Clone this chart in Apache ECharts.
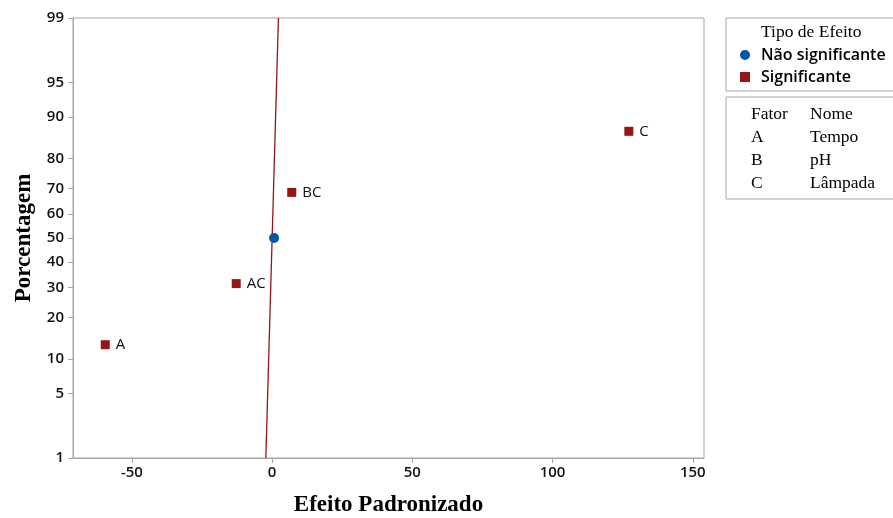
<!DOCTYPE html>
<html>
<head>
<meta charset="utf-8">
<script src="https://cdn.jsdelivr.net/npm/echarts@6/dist/echarts.min.js"></script>
<style>
  html, body { margin: 0; padding: 0; background: #fff; }
  #chart { width: 893px; height: 518px; }
</style>
</head>
<body>
<div id="chart"></div>
<script>
// dados
var efeitos = ['A', 'AC', 'BC', 'C'];
var efeitoValor = [-59.5, -12.8, 7.0, 127.2];
var efeitoPct = [12.96, 31.48, 68.52, 87.04];
var naoSigValor = [0.7];
var naoSigPct = [50];
var linhaValor = [-2.24, 2.25];
var linhaPct = [1, 99];
var yTicks = [1, 5, 10, 20, 30, 40, 50, 60, 70, 80, 90, 95, 99];
var xTicks = [-50, 0, 50, 100, 150];
var fatores = ['A', 'B', 'C'];
var nomes = ['Tempo', 'pH', 'Lâmpada'];

// inversa da normal padrão (Acklam)
function invNorm(p) {
    var a = [-3.969683028665376e+01, 2.209460984245205e+02, -2.759285104469687e+02, 1.383577518672690e+02, -3.066479806614716e+01, 2.506628277459239e+00];
    var b = [-5.447609879822406e+01, 1.615858368580409e+02, -1.556989798598866e+02, 6.680131188771972e+01, -1.328068155288572e+01];
    var c = [-7.784894002430293e-03, -3.223964580411365e-01, -2.400758277161838e+00, -2.549732539343734e+00, 4.374664141464968e+00, 2.938163982698783e+00];
    var d = [7.784695709041462e-03, 3.224671290700398e-01, 2.445134137142996e+00, 3.754408661907416e+00];
    var pl = 0.02425, q, r;
    if (p < pl) {
        q = Math.sqrt(-2 * Math.log(p));
        return (((((c[0]*q+c[1])*q+c[2])*q+c[3])*q+c[4])*q+c[5]) / ((((d[0]*q+d[1])*q+d[2])*q+d[3])*q+1);
    }
    if (p > 1 - pl) {
        q = Math.sqrt(-2 * Math.log(1 - p));
        return -(((((c[0]*q+c[1])*q+c[2])*q+c[3])*q+c[4])*q+c[5]) / ((((d[0]*q+d[1])*q+d[2])*q+d[3])*q+1);
    }
    q = p - 0.5; r = q * q;
    return (((((a[0]*r+a[1])*r+a[2])*r+a[3])*r+a[4])*r+a[5])*q / (((((b[0]*r+b[1])*r+b[2])*r+b[3])*r+b[4])*r+1);
}
function z(pct) { return invNorm(pct / 100); }

var yTickZ = yTicks.map(z);
function yLabel(v) {
    var best = 0;
    for (var i = 1; i < yTickZ.length; i++) {
        if (Math.abs(yTickZ[i] - v) < Math.abs(yTickZ[best] - v)) best = i;
    }
    return String(yTicks[best]);
}

var sansFont = '"Open Sans", "Noto Sans", sans-serif';
var serifFont = '"Liberation Serif", "DejaVu Serif", serif';
var vermelho = '#961616';
var azul = '#0057a8';
var cinza = '#a6a6a6';

var chart = echarts.init(document.getElementById('chart'));

var tabelaTextos = [
    { type: 'text', left: 751, top: 105, style: { text: 'Fator', font: '17.5px ' + serifFont, fill: '#000' } },
    { type: 'text', left: 810, top: 105, style: { text: 'Nome', font: '17.5px ' + serifFont, fill: '#000' } }
];
fatores.forEach(function (f, i) {
    tabelaTextos.push({ type: 'text', left: 751, top: 128 + i * 23, style: { text: f, font: '17.5px ' + serifFont, fill: '#000' } });
    tabelaTextos.push({ type: 'text', left: 810, top: 128 + i * 23, style: { text: nomes[i], font: '17.5px ' + serifFont, fill: '#000' } });
});

var option = {
    animation: false,
    grid: {
        left: 73, top: 18, right: 189, bottom: 60,
        outerBoundsMode: 'none',
        containLabel: false,
        show: true, borderColor: cinza, borderWidth: 1
    },
    xAxis: {
        type: 'value',
        min: -71, max: 154,
        name: 'Efeito Padronizado',
        nameLocation: 'middle',
        nameGap: 36,
        nameTextStyle: { fontFamily: serifFont, fontWeight: 'bold', fontSize: 23, color: '#000' },
        axisLine: { onZero: false, lineStyle: { color: cinza } },
        axisTick: { show: true, length: 5, lineStyle: { color: cinza }, customValues: xTicks },
        axisLabel: { customValues: xTicks, margin: 7, fontFamily: sansFont, fontWeight: 600, fontSize: 15, color: '#111' },
        splitLine: { show: false }
    },
    yAxis: {
        type: 'value',
        min: z(1), max: z(99),
        name: 'Porcentagem',
        nameLocation: 'middle',
        nameGap: 34,
        nameRotate: 90,
        nameTextStyle: { fontFamily: serifFont, fontWeight: 'bold', fontSize: 23, color: '#000' },
        axisLine: { show: true, onZero: false, lineStyle: { color: cinza } },
        axisTick: { show: true, length: 5, lineStyle: { color: cinza }, customValues: yTickZ },
        axisLabel: { customValues: yTickZ, formatter: yLabel, margin: 9, fontFamily: sansFont, fontWeight: 600, fontSize: 15, color: '#111' },
        splitLine: { show: false }
    },
    legend: {
        orient: 'vertical',
        left: 735, top: 42,
        itemWidth: 10, itemHeight: 10, itemGap: 6,
        textStyle: { fontFamily: sansFont, fontWeight: 600, fontSize: 16, color: '#000', padding: [0, 0, 0, 6] },
        data: [
            { name: 'Não significante', icon: 'circle' },
            { name: 'Significante', icon: 'rect' }
        ]
    },
    graphic: [
        { type: 'rect', shape: { x: 726, y: 18, width: 180, height: 73 }, style: { fill: 'none', stroke: cinza, lineWidth: 1 } },
        { type: 'text', left: 761, top: 23, style: { text: 'Tipo de Efeito', font: '17.5px ' + serifFont, fill: '#000' } },
        { type: 'rect', shape: { x: 726, y: 97, width: 180, height: 102 }, style: { fill: 'none', stroke: cinza, lineWidth: 1 } }
    ].concat(tabelaTextos),
    series: [
        {
            name: 'Linha',
            type: 'line',
            data: linhaValor.map(function (v, i) { return [v, z(linhaPct[i])]; }),
            symbol: 'none',
            lineStyle: { color: vermelho, width: 1.3 },
            silent: true,
            z: 1
        },
        {
            name: 'Não significante',
            type: 'scatter',
            data: naoSigValor.map(function (v, i) { return [v, z(naoSigPct[i])]; }),
            symbol: 'circle',
            symbolSize: 10,
            itemStyle: { color: azul, opacity: 1 },
            z: 3
        },
        {
            name: 'Significante',
            type: 'scatter',
            data: efeitoValor.map(function (v, i) { return { name: efeitos[i], value: [v, z(efeitoPct[i])] }; }),
            symbol: 'rect',
            symbolSize: 9,
            itemStyle: { color: vermelho, opacity: 1 },
            label: {
                show: true,
                position: 'right',
                distance: 6,
                formatter: '{b}',
                fontFamily: sansFont,
                fontSize: 15,
                color: '#111'
            },
            z: 3
        }
    ]
};

chart.setOption(option);
</script>
</body>
</html>
